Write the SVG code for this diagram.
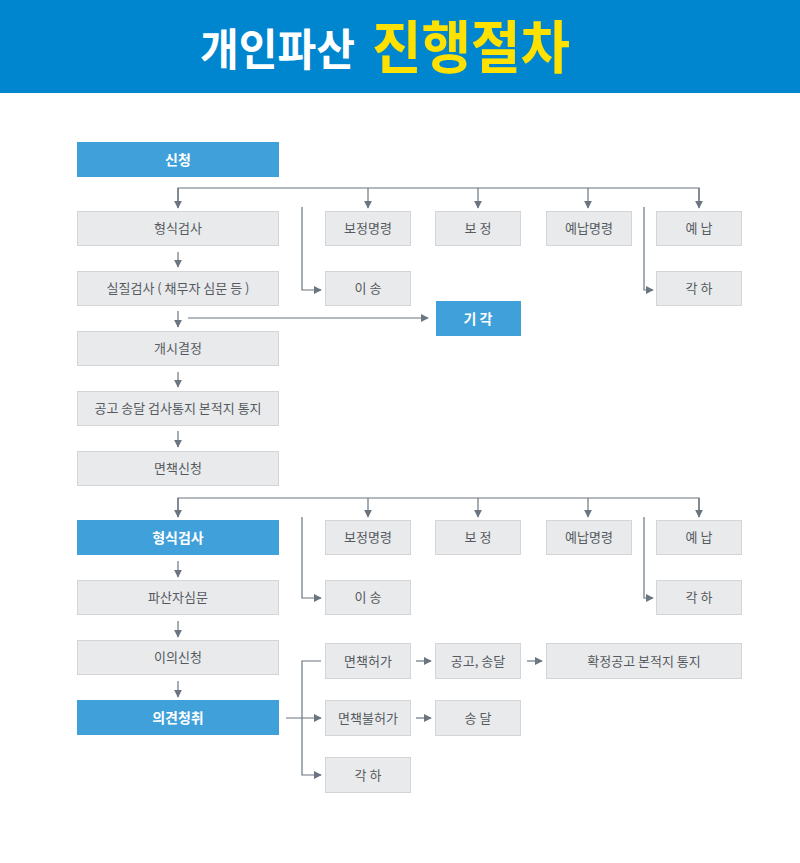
<svg xmlns="http://www.w3.org/2000/svg" width="800" height="863" viewBox="0 0 800 863">
<defs>
<marker id="ah" viewBox="0 0 10 10" refX="9" refY="5" markerWidth="8" markerHeight="8" markerUnits="userSpaceOnUse" orient="auto"><path d="M0,0 L10,5 L0,10 z" fill="#6B7580"/></marker>
<style>
.g{fill:#E9EAEC;stroke:#D3D5D8;stroke-width:1}
.b{fill:#3FA0DA}
.t{font-family:"Noto Sans CJK KR","Noto Sans",sans-serif;font-size:13px;fill:#555A60;text-anchor:middle}
.w{font-family:"Noto Sans CJK KR","Noto Sans",sans-serif;font-size:14px;font-weight:bold;fill:#FFFFFF;text-anchor:middle}
.c{fill:none;stroke:#6B7580;stroke-width:1.2}
.a{marker-end:url(#ah)}
</style>
</defs>
<rect x="0" y="0" width="800" height="93" fill="#0086CF"/>
<text x="200" y="66" font-family="'Noto Sans CJK KR',sans-serif" font-size="44" font-weight="bold" fill="#FFFFFF" textLength="155" lengthAdjust="spacingAndGlyphs">개인파산</text>
<text x="372" y="68" font-family="'Noto Sans CJK KR',sans-serif" font-size="57" font-weight="bold" fill="#FFE100" textLength="198" lengthAdjust="spacingAndGlyphs">진행절차</text>

<g id="connectors">
<path class="c" d="M178,207 V188 H699 V207" />
<path class="c a" d="M178,188 V208"/>
<path class="c a" d="M368,188 V208"/>
<path class="c a" d="M478,188 V208"/>
<path class="c a" d="M588,188 V208"/>
<path class="c a" d="M699,188 V208"/>
<path class="c a" d="M302,207 V290 H321"/>
<path class="c a" d="M644,207 V290 H653"/>
<path class="c a" d="M178,252 V267"/>
<path class="c a" d="M178,311 V327"/>
<path class="c a" d="M188,318 H428"/>
<path class="c a" d="M178,372 V387"/>
<path class="c a" d="M178,431 V447"/>
<path class="c" d="M178,517 V498 H699 V517"/>
<path class="c a" d="M178,498 V517"/>
<path class="c a" d="M368,498 V517"/>
<path class="c a" d="M478,498 V517"/>
<path class="c a" d="M588,498 V517"/>
<path class="c a" d="M699,498 V517"/>
<path class="c a" d="M302,517 V598 H321"/>
<path class="c a" d="M644,517 V598 H653"/>
<path class="c a" d="M178,561 V577"/>
<path class="c a" d="M178,621 V637"/>
<path class="c a" d="M178,681 V697"/>
<path class="c a" d="M286,718 H321"/>
<path class="c a" d="M321,661 H302 V775 H321"/>
<path class="c a" d="M416,661 H431"/>
<path class="c a" d="M527,661 H542"/>
<path class="c a" d="M416,718 H431"/>
</g>

<g id="n1"><rect class="b" x="77" y="142" width="202" height="35"/><text class="w" x="178" y="164.5">신청</text></g>
<g id="n2"><rect class="g" x="77.5" y="211.5" width="201" height="34"/><text class="t" x="178" y="233">형식검사</text></g>
<g id="n3"><rect class="g" x="77.5" y="271.5" width="201" height="34"/><text class="t" x="178" y="293">실질검사 ( 채무자 심문 등 )</text></g>
<g id="n4"><rect class="g" x="77.5" y="331.5" width="201" height="34"/><text class="t" x="178" y="353">개시결정</text></g>
<g id="n5"><rect class="g" x="77.5" y="391.5" width="201" height="34"/><text class="t" x="178" y="413">공고 송달 검사통지 본적지 통지</text></g>
<g id="n6"><rect class="g" x="77.5" y="451.5" width="201" height="34"/><text class="t" x="178" y="473">면책신청</text></g>
<g id="n7"><rect class="g" x="325.5" y="211.5" width="85" height="34"/><text class="t" x="368" y="233">보정명령</text></g>
<g id="n8"><rect class="g" x="435.5" y="211.5" width="85" height="34"/><text class="t" x="478" y="233">보 정</text></g>
<g id="n9"><rect class="g" x="546.5" y="211.5" width="85" height="34"/><text class="t" x="589" y="233">예납명령</text></g>
<g id="n10"><rect class="g" x="656.5" y="211.5" width="85" height="34"/><text class="t" x="699" y="233">예 납</text></g>
<g id="n11"><rect class="g" x="325.5" y="271.5" width="85" height="34"/><text class="t" x="368" y="293">이 송</text></g>
<g id="n12"><rect class="g" x="656.5" y="271.5" width="85" height="34"/><text class="t" x="699" y="293">각 하</text></g>
<g id="n13"><rect class="b" x="436" y="301" width="85" height="35"/><text class="w" x="478" y="323.5">기 각</text></g>

<g id="n14"><rect class="b" x="77" y="520" width="202" height="35"/><text class="w" x="178" y="542.5">형식검사</text></g>
<g id="n15"><rect class="g" x="77.5" y="580.5" width="201" height="34"/><text class="t" x="178" y="602">파산자심문</text></g>
<g id="n16"><rect class="g" x="77.5" y="640.5" width="201" height="34"/><text class="t" x="178" y="662">이의신청</text></g>
<g id="n17"><rect class="b" x="77" y="700" width="202" height="35"/><text class="w" x="178" y="722.5">의견청취</text></g>
<g id="n18"><rect class="g" x="325.5" y="520.5" width="85" height="34"/><text class="t" x="368" y="542">보정명령</text></g>
<g id="n19"><rect class="g" x="435.5" y="520.5" width="85" height="34"/><text class="t" x="478" y="542">보 정</text></g>
<g id="n20"><rect class="g" x="546.5" y="520.5" width="85" height="34"/><text class="t" x="589" y="542">예납명령</text></g>
<g id="n21"><rect class="g" x="656.5" y="520.5" width="85" height="34"/><text class="t" x="699" y="542">예 납</text></g>
<g id="n22"><rect class="g" x="325.5" y="580.5" width="85" height="34"/><text class="t" x="368" y="602">이 송</text></g>
<g id="n23"><rect class="g" x="656.5" y="580.5" width="85" height="34"/><text class="t" x="699" y="602">각 하</text></g>
<g id="n24"><rect class="g" x="325.5" y="643.5" width="85" height="35"/><text class="t" x="368" y="666">면책허가</text></g>
<g id="n25"><rect class="g" x="435.5" y="643.5" width="85" height="35"/><text class="t" x="478" y="666">공고, 송달</text></g>
<g id="n26"><rect class="g" x="546.5" y="643.5" width="195" height="35"/><text class="t" x="644" y="666">확정공고 본적지 통지</text></g>
<g id="n27"><rect class="g" x="325.5" y="700.5" width="85" height="35"/><text class="t" x="368" y="723">면책불허가</text></g>
<g id="n28"><rect class="g" x="435.5" y="700.5" width="85" height="35"/><text class="t" x="478" y="723">송 달</text></g>
<g id="n29"><rect class="g" x="325.5" y="757.5" width="85" height="35"/><text class="t" x="368" y="780">각 하</text></g>
</svg>
